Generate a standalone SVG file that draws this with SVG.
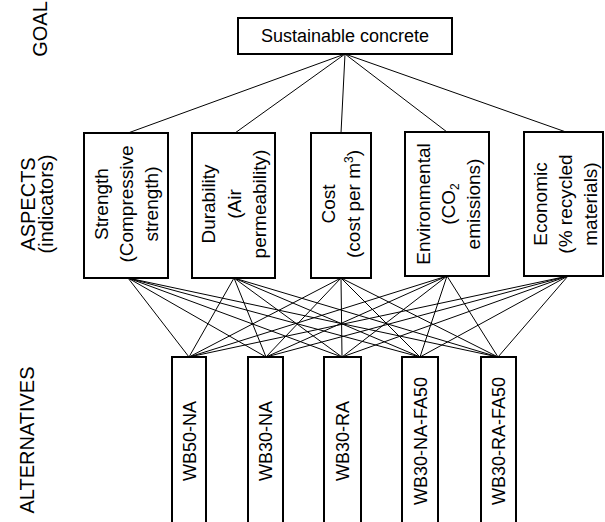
<svg xmlns="http://www.w3.org/2000/svg" width="605" height="522" viewBox="0 0 605 522">
<style>
.box{fill:#fff;stroke:#000;stroke-width:2}
.ln{stroke:#000;stroke-width:1;fill:none}
text{font-family:"Liberation Sans",Arial,sans-serif;fill:#000}
.lbl{font-size:20px;text-anchor:middle}
.asp{font-size:19px;text-anchor:middle}
.alt{font-size:18px;text-anchor:middle}
.goal{font-size:18px;text-anchor:middle}
</style>
<rect width="605" height="522" fill="#fff"/>
<g id="level-labels">
<text class="lbl" transform="translate(47,29) rotate(-90)">GOAL</text>
<text class="lbl" transform="translate(35,204) rotate(-90)">ASPECTS</text>
<text class="lbl" transform="translate(53,204) rotate(-90)">(indicators)</text>
<text class="lbl" transform="translate(34,440) rotate(-90)">ALTERNATIVES</text>
</g>
<g id="connectors">
<path class="ln" d="M345,54 L128,133 M345,54 L235,133 M345,54 L341,133 M345,54 L447,132 M345,54 L566,132"/>
<path class="ln" d="M128,278 L189,357 M128,278 L266,357 M128,278 L342,357 M128,278 L420,357 M128,278 L498,357
M234,278 L189,357 M234,278 L266,357 M234,278 L342,357 M234,278 L420,357 M234,278 L498,357
M341,278 L189,357 M341,278 L266,357 M341,278 L342,357 M341,278 L420,357 M341,278 L498,357
M447,276 L189,357 M447,276 L266,357 M447,276 L342,357 M447,276 L420,357 M447,276 L498,357
M568,276 L189,357 M568,276 L266,357 M568,276 L342,357 M568,276 L420,357 M568,276 L498,357"/>
</g>
<g id="goal">
<rect class="box" x="238" y="18" width="214" height="36"/>
<text class="goal" x="345" y="42">Sustainable concrete</text>
</g>
<g id="aspect-strength">
<rect class="box" x="84" y="133" width="84" height="145"/>
<text class="asp" transform="translate(126,204) rotate(-90)"><tspan x="0" y="-18.5">Strength</tspan><tspan x="0" y="7">(Compressive</tspan><tspan x="0" y="32">strength)</tspan></text>
</g>
<g id="aspect-durability">
<rect class="box" x="192" y="133" width="83" height="145"/>
<text class="asp" transform="translate(233.5,204) rotate(-90)"><tspan x="0" y="-18.5">Durability</tspan><tspan x="0" y="7">(Air</tspan><tspan x="0" y="32">permeability)</tspan></text>
</g>
<g id="aspect-cost">
<rect class="box" x="311" y="133" width="60" height="145"/>
<text class="asp" transform="translate(341,204) rotate(-90)"><tspan x="0" y="-6">Cost</tspan><tspan x="0" y="19">(cost per m<tspan dy="-7" font-size="12">3</tspan><tspan dy="7">)</tspan></tspan></text>
</g>
<g id="aspect-environmental">
<rect class="box" x="405" y="132" width="84" height="144"/>
<text class="asp" transform="translate(448,204) rotate(-90)"><tspan x="0" y="-18.5">Environmental</tspan><tspan x="0" y="7">(CO<tspan dy="4" font-size="12">2</tspan></tspan><tspan x="0" y="32">emissions)</tspan></text>
</g>
<g id="aspect-economic">
<rect class="box" x="524" y="132" width="79" height="144"/>
<text class="asp" transform="translate(565,204) rotate(-90)"><tspan x="0" y="-18.5">Economic</tspan><tspan x="0" y="7">(% recycled</tspan><tspan x="0" y="32">materials)</tspan></text>
</g>
<g id="alt-wb50-na">
<rect class="box" x="172" y="357" width="34" height="175"/>
<text class="alt" transform="translate(189,441) rotate(-90)" y="6.5">WB50-NA</text>
</g>
<g id="alt-wb30-na">
<rect class="box" x="248" y="357" width="35" height="175"/>
<text class="alt" transform="translate(265.5,441) rotate(-90)" y="6.5">WB30-NA</text>
</g>
<g id="alt-wb30-ra">
<rect class="box" x="324" y="357" width="37" height="175"/>
<text class="alt" transform="translate(342.5,441) rotate(-90)" y="6.5">WB30-RA</text>
</g>
<g id="alt-wb30-na-fa50">
<rect class="box" x="402" y="357" width="36" height="175"/>
<text class="alt" transform="translate(420,441) rotate(-90)" y="6.5">WB30-NA-FA50</text>
</g>
<g id="alt-wb30-ra-fa50">
<rect class="box" x="481" y="357" width="35" height="175"/>
<text class="alt" transform="translate(498.5,441) rotate(-90)" y="6.5">WB30-RA-FA50</text>
</g>
</svg>
